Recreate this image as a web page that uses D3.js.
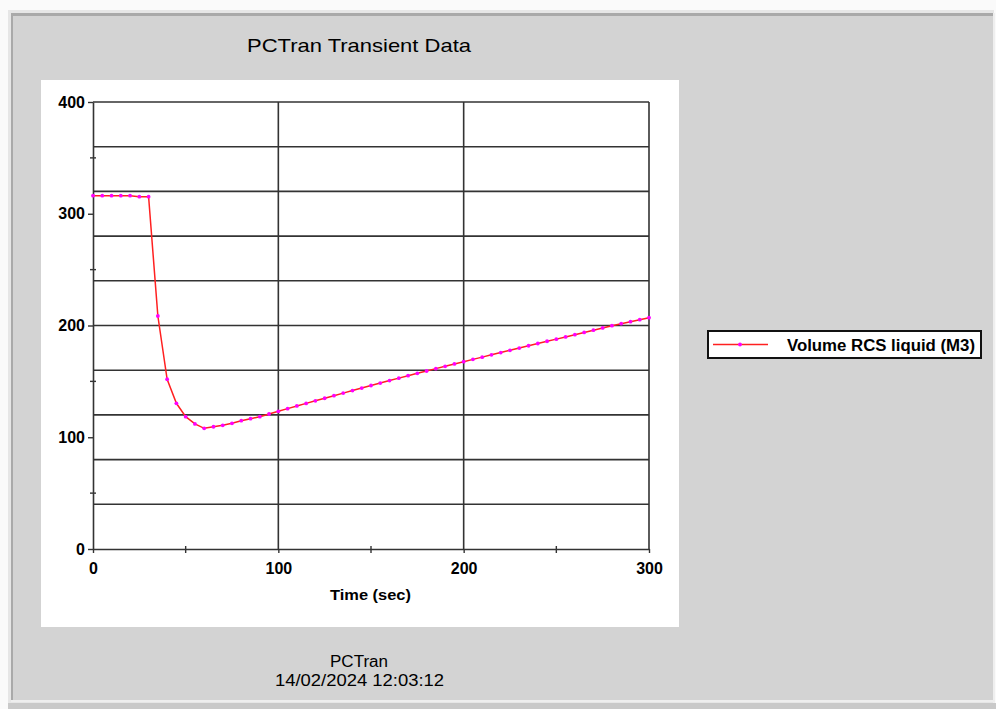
<!DOCTYPE html>
<html>
<head>
<meta charset="utf-8">
<script src="https://cdn.jsdelivr.net/npm/d3@7"></script>
<style>
  html, body { margin: 0; padding: 0; background: #fafafa; }
  svg { display: block; }
</style>
</head>
<body>
<svg id="chart" width="996" height="709"></svg>
<script>
// ---- data ----
const timeSec = [0,5,10,15,20,25,30,35,40,45,50,55,60,65,70,75,80,85,90,95,
  100,105,110,115,120,125,130,135,140,145,150,155,160,165,170,175,180,185,190,195,
  200,205,210,215,220,225,230,235,240,245,250,255,260,265,270,275,280,285,290,295,300];
const volumeRCS = [316.2,316.2,316.2,316.2,316.2,315.3,315.3,208.5,151.9,130.4,118.4,111.9,108.0,109.4,110.7,112.5,114.8,116.6,118.4,120.8,
  123.2,125.6,128.0,130.3,132.6,134.9,137.2,139.5,141.8,144.0,146.3,148.5,150.7,152.9,155.1,157.2,159.3,161.4,163.5,165.6,
  167.6,169.7,171.7,173.8,175.8,177.8,179.8,181.9,183.9,185.9,187.8,189.8,191.8,193.8,195.8,197.8,199.8,201.6,203.4,205.2,207.0];
const xTickValues = [0,100,200,300];
const xMinorTicks = [50,150,250];
const yTickValues = [0,100,200,300,400];
const yMinorTicks = [50,150,250,350];
const yGridValues = [40,80,120,160,200,240,280,320,360,400];
const titleText = "PCTran Transient Data";
const xAxisTitle = "Time (sec)";
const seriesName = "Volume RCS liquid (M3)";
const footerLines = ["PCTran", "14/02/2024 12:03:12"];

// ---- drawing ----
const svg = d3.select("#chart");
const FONT = "'Liberation Sans', Arial, sans-serif";

// outer frame
svg.append("rect").attr("x", 0).attr("y", 0).attr("width", 996).attr("height", 709).attr("fill", "#fafafa");
svg.append("rect").attr("x", 8).attr("y", 10).attr("width", 986).attr("height", 694).attr("fill", "#e6e6e6");
svg.append("rect").attr("x", 11).attr("y", 13).attr("width", 982).attr("height", 688).attr("fill", "#a9a9a9");
svg.append("rect").attr("x", 13).attr("y", 16).attr("width", 980).attr("height", 684).attr("fill", "#d3d3d3");
svg.append("rect").attr("x", 993).attr("y", 13).attr("width", 2).attr("height", 690).attr("fill", "#efefef");
svg.append("rect").attr("x", 11).attr("y", 700).attr("width", 984).attr("height", 2).attr("fill", "#eeeeee");
svg.append("rect").attr("x", 8).attr("y", 703).attr("width", 988).attr("height", 6).attr("fill", "#c9c9c9");

// white plot panel
svg.append("rect").attr("x", 41).attr("y", 80).attr("width", 638).attr("height", 547).attr("fill", "#ffffff");

const x = d3.scaleLinear().domain([0, 300]).range([93, 649]);
const y = d3.scaleLinear().domain([0, 400]).range([549, 102]);

const gridColor = "#333333";
// horizontal grid
svg.append("g").selectAll("line").data(yGridValues).join("line")
  .attr("x1", x(0)).attr("x2", x(300))
  .attr("y1", d => y(d)).attr("y2", d => y(d))
  .attr("stroke", gridColor).attr("stroke-width", 1.6);
// vertical grid
svg.append("g").selectAll("line").data(xTickValues.filter(d => d > 0)).join("line")
  .attr("x1", d => x(d)).attr("x2", d => x(d))
  .attr("y1", y(400)).attr("y2", y(0))
  .attr("stroke", gridColor).attr("stroke-width", 1.6);

// axes
const yAxis = svg.append("g").attr("transform", `translate(${x(0)},0)`)
  .call(d3.axisLeft(y).tickValues(yTickValues).tickSize(5).tickSizeOuter(0).tickPadding(3));
const xAxis = svg.append("g").attr("transform", `translate(0,${y(0)})`)
  .call(d3.axisBottom(x).tickValues(xTickValues).tickSize(4).tickSizeOuter(0).tickPadding(10));
[yAxis, xAxis].forEach(g => {
  g.select(".domain").attr("stroke", gridColor).attr("stroke-width", 1.6);
  g.selectAll(".tick line").attr("stroke", gridColor).attr("stroke-width", 1.4);
  g.selectAll(".tick text").attr("fill", "#000").attr("font-family", FONT)
    .attr("font-size", 16).attr("font-weight", "bold");
});

// minor ticks (crossing the axis)
svg.append("g").selectAll("line").data(yMinorTicks).join("line")
  .attr("x1", x(0) - 3).attr("x2", x(0) + 3)
  .attr("y1", d => y(d)).attr("y2", d => y(d))
  .attr("stroke", gridColor).attr("stroke-width", 1.4);
svg.append("g").selectAll("line").data(xMinorTicks).join("line")
  .attr("x1", d => x(d)).attr("x2", d => x(d))
  .attr("y1", y(0) - 3).attr("y2", y(0) + 4)
  .attr("stroke", gridColor).attr("stroke-width", 1.4);

// series
const pts = timeSec.map((t, i) => [t, volumeRCS[i]]);
svg.append("path").datum(pts)
  .attr("fill", "none").attr("stroke", "#ff2020").attr("stroke-width", 1.5)
  .attr("d", d3.line().x(d => x(d[0])).y(d => y(d[1])));
svg.append("g").selectAll("circle").data(pts).join("circle")
  .attr("cx", d => x(d[0])).attr("cy", d => y(d[1])).attr("r", 1.9)
  .attr("fill", "#ff00ff");

// titles
function fitText(sel, w) { sel.attr("textLength", w).attr("lengthAdjust", "spacingAndGlyphs"); return sel; }

fitText(svg.append("text").attr("x", 359).attr("y", 52).attr("text-anchor", "middle")
  .attr("font-family", FONT).attr("font-size", 19).attr("fill", "#000").text(titleText), 224);

fitText(svg.append("text").attr("x", 370.5).attr("y", 600).attr("text-anchor", "middle")
  .attr("font-family", FONT).attr("font-size", 15).attr("font-weight", "bold").attr("fill", "#000").text(xAxisTitle), 81);

fitText(svg.append("text").attr("x", 359).attr("y", 667).attr("text-anchor", "middle")
  .attr("font-family", FONT).attr("font-size", 16).attr("fill", "#000").text(footerLines[0]), 58);
fitText(svg.append("text").attr("x", 359.5).attr("y", 686).attr("text-anchor", "middle")
  .attr("font-family", FONT).attr("font-size", 16).attr("fill", "#000").text(footerLines[1]), 169);

// legend
const lg = svg.append("g");
lg.append("rect").attr("x", 708).attr("y", 331).attr("width", 273).attr("height", 27)
  .attr("fill", "#ffffff").attr("stroke", "#111").attr("stroke-width", 2);
lg.append("line").attr("x1", 713).attr("x2", 768).attr("y1", 344.5).attr("y2", 344.5)
  .attr("stroke", "#ff2020").attr("stroke-width", 1.5);
lg.append("circle").attr("cx", 740).attr("cy", 344.5).attr("r", 1.9).attr("fill", "#ff00ff");
fitText(lg.append("text").attr("x", 787).attr("y", 350.5)
  .attr("font-family", FONT).attr("font-size", 16).attr("font-weight", "bold").attr("fill", "#000").text(seriesName), 188);
</script>
</body>
</html>
